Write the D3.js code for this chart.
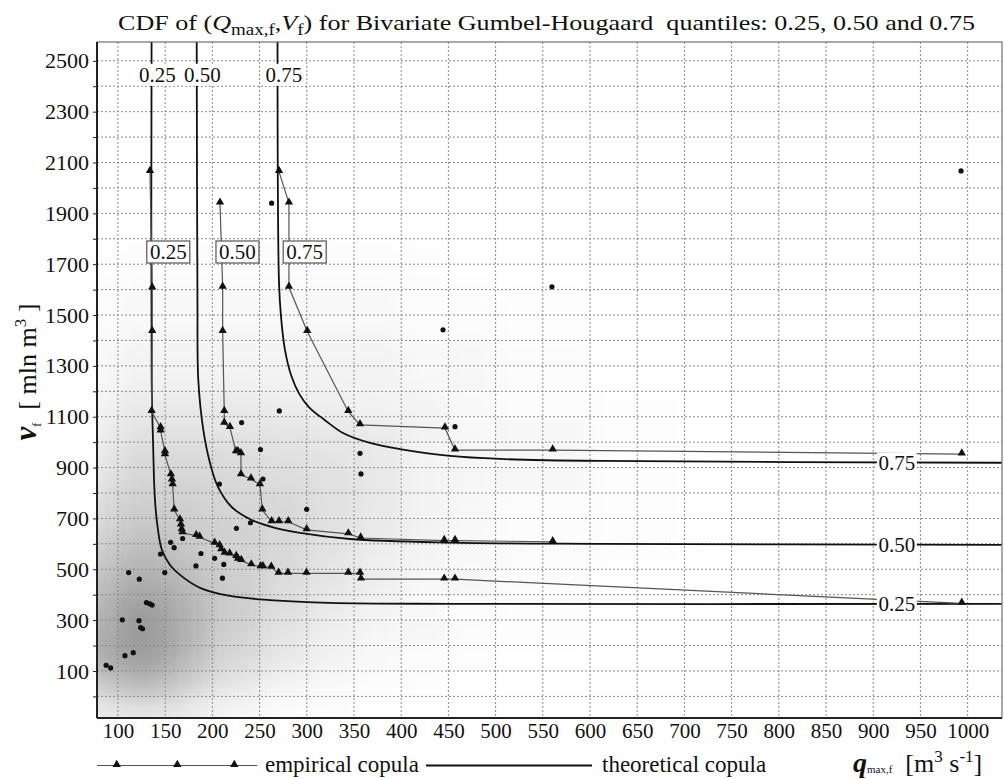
<!DOCTYPE html>
<html lang="en">
<head>
<meta charset="utf-8">
<script src="https://d3js.org/d3.v7.min.js"></script>
<style>
  body { margin: 0; background: #fff; }
</style>
</head>
<body>
<div id="chart"></div>
<script>
// ---- tick values ----
const xTickVals = [100,150,200,250,300,350,400,450,500,550,600,650,700,750,800,850,900,950,1000];
const yLabelVals = [100,300,500,700,900,1100,1300,1500,1700,1900,2100,2300,2500];
const yGridVals = [0,100,200,300,400,500,600,700,800,900,1000,1100,1200,1300,1400,1500,1600,1700,1800,1900,2000,2100,2200,2300,2400,2500];

// ---- theoretical copula contours [q, v] ----
const theo25 = [[135.6,2575],[135.7,1245],[137.1,1009],[139.2,773],[142.4,655],[146.6,576],[155.1,517],[165.7,478],[186.9,427],[218.6,395],[261,379],[324.6,368],[451.7,364],[1036,364]];
const theo50 = [[183.4,2575],[184.2,1560],[185.1,1245],[190.4,1048],[197.5,918],[205.9,824],[220.4,745],[241.6,694],[266.3,663],[292.8,643],[345.8,619],[451.7,605],[610.6,600],[1036,596]];
const theo75 = [[269,2575],[270.6,1626],[272.7,1494],[276.9,1363],[283.5,1262],[292,1190],[303,1135],[318,1090],[338.3,1036],[367,997],[398.7,973],[451.7,946],[504.7,934],[610.6,926],[1036,919]];

// ---- empirical copula contours [q, v] ----
const emp25 = [[133.9,2064],[136.3,1606],[136.3,1435],[135.7,1120],[145.2,1056],[145.2,1044],[149.8,962],[149.8,950],[156.1,871],[157.2,851],[157.9,832],[159.6,733],[165.7,694],[166.7,674],[167.5,655],[168.3,643],[182.9,632],[186.5,626],[202.4,602],[207.7,592],[209.4,576],[213,563],[218.3,560],[225.3,550],[227.1,539],[230.6,534],[241.2,517],[251.2,510],[253.6,510],[262.4,508],[270.2,484],[280.1,484],[299.7,484],[344,484],[356.4,484],[357.4,461],[445.6,461],[457,461],[993.8,366]];
const emp50 = [[208.1,1940],[210.9,1609],[210.9,1435],[212.6,1120],[212.6,1074],[218.6,1057],[225,962],[227.1,962],[230.3,954],[230.3,871],[240.9,855],[250.4,832],[252.9,733],[262.8,687],[270.6,687],[280.4,687],[299.9,655],[344,639],[357.1,623],[445.6,613],[457,613],[560.5,608]];
const emp75 = [[270.6,2064],[281.1,1940],[281.1,1609],[300.5,1435],[344,1120],[356.4,1068],[446.4,1055],[457,969],[560.5,969],[993.8,953]];

// ---- observed flood events [q, v] ----
const obsPoints = [[993,2067],[559.7,1611],[444.3,1442],[457,1061],[356.4,956],[357.4,875],[262.8,1940],[270.9,1123],[231,1077],[251,971],[253.6,855],[207.5,835],[299.9,736],[240.4,683],[225.5,661],[168.5,621],[155.8,606],[159.5,585],[145,560],[187.9,562],[202.4,543],[212.1,519],[182.6,513],[111.3,487],[122.6,461],[149.6,487],[210.7,465],[130.2,369],[133.7,364],[136.2,359],[104.6,301],[122.2,298],[124,271],[126,266],[107.4,160],[116.2,172],[87.5,122],[92.3,112]];

// ---- simulated sample cloud, density per cell (rows top -> bottom) ----
const cloudX = [60,100,125,150,175,200,250,300,350,400,450,500,600,700];
const cloudY = [1800,1600,1400,1200,1100,1000,900,800,700,600,500,400,300,200,100,0,-150];
const cloudDensity = [
  [0,0.3,0.3,0.3,0.3,0.3,0.3,0.3,0.3,0.1,0,0,0],
  [0.3,0.6,0.6,0.6,0.6,0.6,0.6,0.6,0.6,0.3,0.3,0.1,0],
  [0.5,1,1,1,1,1,1,1,1,0.6,0.4,0.2,0],
  [1,1.5,1.5,1.5,1.5,1.5,1.3,1.2,1,0.8,0.5,0.3,0.1],
  [1.2,2,2,2,2,2,1.8,1.6,1.4,1,0.6,0.4,0.1],
  [1.5,2.5,2.5,2.5,2.5,2.4,2.2,2,1.6,1,0.7,0.4,0.1],
  [2,3,3,3,3,2.8,2.6,2.2,1.6,1,0.7,0.4,0.1],
  [2.5,3.5,3.5,3.5,3.3,3,2.8,2.2,1.6,1,0.6,0.3,0.1],
  [3,4.2,4.2,4,3.6,3.2,2.8,2.2,1.5,0.9,0.5,0.3,0.1],
  [3.8,5,5,4.6,4,3.4,2.8,2,1.3,0.8,0.5,0.2,0.1],
  [4.5,6,6,5.4,4.6,3.6,2.6,1.8,1.1,0.6,0.4,0.2,0],
  [5.5,7,7,6,5,3.6,2.4,1.5,0.9,0.5,0.3,0.1,0],
  [6,7.5,7.5,6.2,5,3.4,2,1.2,0.7,0.4,0.2,0.1,0],
  [6,7,7,5.6,4.4,2.8,1.6,0.9,0.5,0.3,0.1,0,0],
  [4,5,5,4,3,1.8,1,0.5,0.3,0.1,0,0,0],
  [1.5,2,2,1.6,1.2,0.7,0.3,0.1,0,0,0,0,0]
];

// ---- labels ----
const quantLabels = ["0.25","0.50","0.75"];
const topLabelQ = [141.8,189.5,275.8];
const boxLabelQ = [153.3,226.6,297.8];
const rightLabelV = [364,596,919];

const serifFont = '"Liberation Serif", "Times New Roman", serif';

var margin = {top: 42, right: 2, bottom: 61, left: 97},
    width = 1004 - margin.left - margin.right,
    height = 779 - margin.top - margin.bottom;

var root = d3.select("#chart").append("svg")
    .attr("width", 1004).attr("height", 779);
var svg = root.append("g").attr("transform", `translate(${margin.left},${margin.top})`);

var x = d3.scaleLinear().domain([77.8, 1036.4]).range([0, width]);
var y = d3.scaleLinear().domain([-85, 2574]).range([height, 0]);

var defs = root.append("defs");
defs.append("clipPath").attr("id", "plotClip")
  .append("rect").attr("width", width).attr("height", height);
defs.append("filter").attr("id", "soft")
    .attr("filterUnits", "userSpaceOnUse")
    .attr("x", -80).attr("y", -80).attr("width", width + 160).attr("height", height + 160)
  .append("feGaussianBlur").attr("stdDeviation", 11);

// cloud of simulated pairs
var cloud = svg.append("g").attr("clip-path", "url(#plotClip)")
  .append("g").attr("filter", "url(#soft)");
cloudDensity.forEach(function(row, i) {
  row.forEach(function(d, j) {
    if (d <= 0) return;
    cloud.append("rect")
      .attr("x", x(cloudX[j]))
      .attr("y", y(cloudY[i]))
      .attr("width", x(cloudX[j + 1]) - x(cloudX[j]) + 0.5)
      .attr("height", y(cloudY[i + 1]) - y(cloudY[i]) + 0.5)
      .attr("fill", "#4d4d4d")
      .attr("fill-opacity", Math.min(1, d / 8) * 0.6);
  });
});

// grid
svg.append("g").selectAll("line").data(xTickVals).join("line")
  .attr("x1", d => x(d)).attr("x2", d => x(d)).attr("y1", 0).attr("y2", height)
  .attr("stroke", "#8a8a8a").attr("stroke-width", 1).attr("stroke-dasharray", "2,2");
svg.append("g").selectAll("line").data(yGridVals).join("line")
  .attr("x1", 0).attr("x2", width).attr("y1", d => y(d)).attr("y2", d => y(d))
  .attr("stroke", "#8a8a8a").attr("stroke-width", 1).attr("stroke-dasharray", "2,2");

// axes
var yAxis = d3.axisLeft(y).tickValues(yGridVals).tickSize(4).tickPadding(4)
  .tickFormat(d => yLabelVals.includes(d) ? d : "");
var gy = svg.append("g").call(yAxis);
gy.select(".domain").remove();
gy.attr("font-family", null).attr("font-size", null);
gy.selectAll("text").attr("font-size", 22).attr("fill", "#111");
gy.selectAll("line").attr("stroke", "#222");

var xAxis = d3.axisBottom(x).tickValues(xTickVals).tickSize(0).tickPadding(5).tickFormat(d3.format("d"));
var gx = svg.append("g").attr("transform", `translate(0,${height})`).call(xAxis);
gx.select(".domain").remove();
gx.attr("font-family", null).attr("font-size", null);
gx.selectAll("text").attr("font-size", 21).attr("fill", "#111");

var plot = svg.append("g").attr("clip-path", "url(#plotClip)");

// theoretical contours
var theoLine = d3.line().x(d => x(d[0])).y(d => y(d[1])).curve(d3.curveCatmullRom.alpha(0.5));
[theo25, theo50, theo75].forEach(function(s) {
  plot.append("path").datum(s).attr("d", theoLine)
    .attr("fill", "none").attr("stroke", "#111").attr("stroke-width", 1.8);
});

// empirical contours
var empLine = d3.line().x(d => x(d[0])).y(d => y(d[1]));
var tri = d3.symbol(d3.symbolTriangle).size(30);
[emp25, emp50, emp75].forEach(function(s) {
  plot.append("path").datum(s).attr("d", empLine)
    .attr("fill", "none").attr("stroke", "#555").attr("stroke-width", 1.2);
  plot.append("g").selectAll("path").data(s).join("path")
    .attr("d", tri)
    .attr("transform", d => `translate(${x(d[0])},${y(d[1]) - 1})`)
    .attr("fill", "#111");
});

// observations
plot.append("g").selectAll("circle").data(obsPoints).join("circle")
  .attr("cx", d => x(d[0])).attr("cy", d => y(d[1])).attr("r", 2.6)
  .attr("fill", "#111");

// labels on theoretical curves (top)
quantLabels.forEach(function(t, i) {
  var g = plot.append("g").attr("transform", `translate(${x(topLabelQ[i])},${y(2445)})`);
  g.append("rect").attr("x", -19).attr("y", -11).attr("width", 38).attr("height", 22).attr("fill", "#fff");
  g.append("text").attr("text-anchor", "middle").attr("dy", "0.35em").attr("font-size", 21).attr("fill", "#111").text(t);
});
// labels on theoretical curves (right)
quantLabels.forEach(function(t, i) {
  var g = plot.append("g").attr("transform", `translate(${x(925)},${y(rightLabelV[i])})`);
  g.append("rect").attr("x", -20).attr("y", -10).attr("width", 40).attr("height", 20).attr("fill", "#fff");
  g.append("text").attr("text-anchor", "middle").attr("dy", "0.35em").attr("font-size", 21).attr("fill", "#111").text(t);
});
// boxed labels on empirical curves
quantLabels.forEach(function(t, i) {
  var g = plot.append("g").attr("transform", `translate(${x(boxLabelQ[i])},${y(1748)})`);
  g.append("rect").attr("x", -21.5).attr("y", -11).attr("width", 43).attr("height", 22)
    .attr("fill", "#fff").attr("stroke", "#555").attr("stroke-width", 1.2);
  g.append("text").attr("text-anchor", "middle").attr("dy", "0.35em").attr("font-size", 21).attr("fill", "#111").text(t);
});

// frame
svg.append("rect").attr("width", width).attr("height", height)
  .attr("fill", "none").attr("stroke", "#555").attr("stroke-width", 1);
svg.append("line").attr("x1", 0).attr("x2", 0).attr("y1", 0).attr("y2", height)
  .attr("stroke", "#222").attr("stroke-width", 2);
svg.append("line").attr("x1", 0).attr("x2", width).attr("y1", height).attr("y2", height)
  .attr("stroke", "#222").attr("stroke-width", 2);

// title
var title = root.append("text").attr("x", 118).attr("y", 30).attr("font-size", 22)
  .attr("fill", "#111").style("white-space", "pre")
  .attr("textLength", 857).attr("lengthAdjust", "spacingAndGlyphs");
title.append("tspan").text("CDF of (");
title.append("tspan").attr("font-style", "italic").text("Q");
title.append("tspan").attr("font-size", 16).attr("dy", 5).text("max,f");
title.append("tspan").attr("dy", -5).text(",");
title.append("tspan").attr("font-style", "italic").text("V");
title.append("tspan").attr("font-size", 16).attr("dy", 5).text("f");
title.append("tspan").attr("dy", -5).text(") for Bivariate Gumbel-Hougaard  quantiles: 0.25, 0.50 and 0.75");

// y axis title
var ytitle = root.append("text").attr("transform", "translate(36,372) rotate(-90)")
  .attr("text-anchor", "middle").attr("font-size", 26).attr("fill", "#111").style("white-space", "pre");
ytitle.append("tspan").attr("font-style", "italic").attr("font-weight", "bold").attr("font-size", 31).text("v");
ytitle.append("tspan").attr("font-size", 12).attr("dy", 5).text("f");
ytitle.append("tspan").attr("dy", -5).text("  [ mln m");
ytitle.append("tspan").attr("font-size", 17).attr("dy", -10).text("3");
ytitle.append("tspan").attr("dy", 10).text(" ]");

// x axis title
var xtitle = root.append("text").attr("x", 853).attr("y", 772).attr("font-size", 26)
  .attr("fill", "#111").style("white-space", "pre");
xtitle.append("tspan").attr("font-style", "italic").attr("font-weight", "bold").attr("font-size", 28).text("q");
xtitle.append("tspan").attr("font-size", 11).attr("dy", 1).text("max,f");
xtitle.append("tspan").attr("dy", -1).text("  [m");
xtitle.append("tspan").attr("font-size", 17).attr("dy", -10).text("3");
xtitle.append("tspan").attr("dy", 10).text(" s");
xtitle.append("tspan").attr("font-size", 17).attr("dy", -10).text("-1");
xtitle.append("tspan").attr("dy", 10).text("]");

// legend
var leg = root.append("g");
leg.append("line").attr("x1", 97).attr("x2", 257).attr("y1", 765.5).attr("y2", 765.5)
  .attr("stroke", "#555").attr("stroke-width", 1.2);
[116.7, 177.3, 234.3].forEach(function(px) {
  leg.append("path").attr("d", tri).attr("transform", `translate(${px},764.5)`).attr("fill", "#111");
});
leg.append("text").attr("x", 265).attr("y", 772).attr("font-size", 23).attr("fill", "#111").text("empirical copula");
leg.append("line").attr("x1", 426).attr("x2", 592).attr("y1", 765.5).attr("y2", 765.5)
  .attr("stroke", "#111").attr("stroke-width", 1.8);
leg.append("text").attr("x", 602).attr("y", 772).attr("font-size", 23).attr("fill", "#111").text("theoretical copula");

// serif font set directly on every text node
root.selectAll("text").style("font-family", serifFont);
root.selectAll("tspan").style("font-family", serifFont);
</script>
</body>
</html>
